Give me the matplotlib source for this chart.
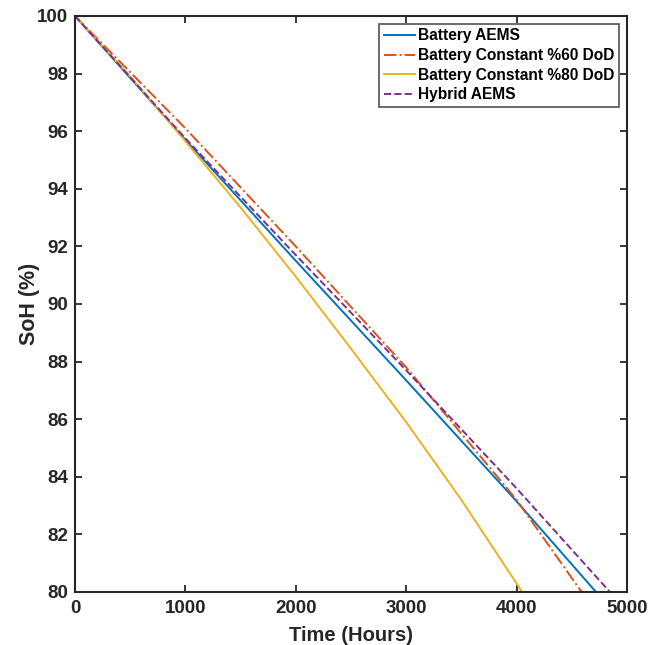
import numpy as np
import matplotlib
matplotlib.use('Agg')
import matplotlib.pyplot as plt

plt.rcParams['font.family'] = ['Liberation Sans', 'DejaVu Sans']
plt.rcParams['font.weight'] = 'bold'

# values (hours, SoH %)
t_batt = [0, 1000, 2000, 3000, 4000, 4720]
soh_batt = [100, 95.7, 91.5, 87.35, 83.15, 80]

t_60 = [0, 1000, 2000, 3000, 4000, 4590]
soh_60 = [100, 96.1, 92.0, 87.8, 83.2, 80]

t_80 = [0, 500, 1000, 1500, 2000, 2500, 3000, 3500, 4000, 4050]
soh_80 = [100, 97.9, 95.65, 93.35, 90.95, 88.45, 85.9, 83.2, 80.3, 80]

t_hyb = [0, 1000, 2000, 3000, 4000, 4846]
soh_hyb = [100, 95.75, 91.7, 87.7, 83.6, 80]

labels = ['Battery AEMS', 'Battery Constant %60 DoD',
          'Battery Constant %80 DoD', 'Hybrid AEMS']

fig = plt.figure(figsize=(6.62, 6.45), dpi=100)
ax = fig.add_axes([0.1133, 0.0822, 0.8337, 0.8930])

lw = 1.4
ax.plot(t_batt, soh_batt, '-', color='#0072BD', lw=lw, label=labels[0])
ax.plot(t_60, soh_60, '-.', color='#D95319', lw=lw, label=labels[1])
ax.plot(t_80, soh_80, '-', color='#EDB120', lw=lw, label=labels[2])
ax.plot(t_hyb, soh_hyb, '--', color='#7E2F8E', lw=lw, label=labels[3])

ax.set_xlim(0, 5000)
ax.set_ylim(80, 100)
ax.set_xticks(np.arange(0, 5001, 1000))
ax.set_yticks(np.arange(80, 101, 2))
ax.tick_params(direction='in', top=True, right=True, length=5, width=1.3,
               colors='#262626', labelsize=13.5)
ax.tick_params(axis='x', pad=6)
ax.tick_params(axis='y', pad=5)
for lab in ax.get_xticklabels() + ax.get_yticklabels():
    lab.set_fontweight('bold')
for s in ax.spines.values():
    s.set_linewidth(1.5)
    s.set_color('#262626')

ax.set_xlabel('Time (Hours)', fontsize=14.5, fontweight='bold', color='#262626',
              labelpad=6)
ax.set_ylabel('SoH (%)', fontsize=15.5, fontweight='bold', color='#262626',
              labelpad=-2.5)

leg = ax.legend(loc='upper right', fontsize=11.2, frameon=True, fancybox=False,
                edgecolor='#262626', handlelength=2.0, handletextpad=0.2,
                labelspacing=0.3, borderpad=0.3, borderaxespad=0.5)
leg.get_frame().set_linewidth(1.2)
for txt in leg.get_texts():
    txt.set_fontweight('bold')

fig.savefig('out.png', dpi=100)
